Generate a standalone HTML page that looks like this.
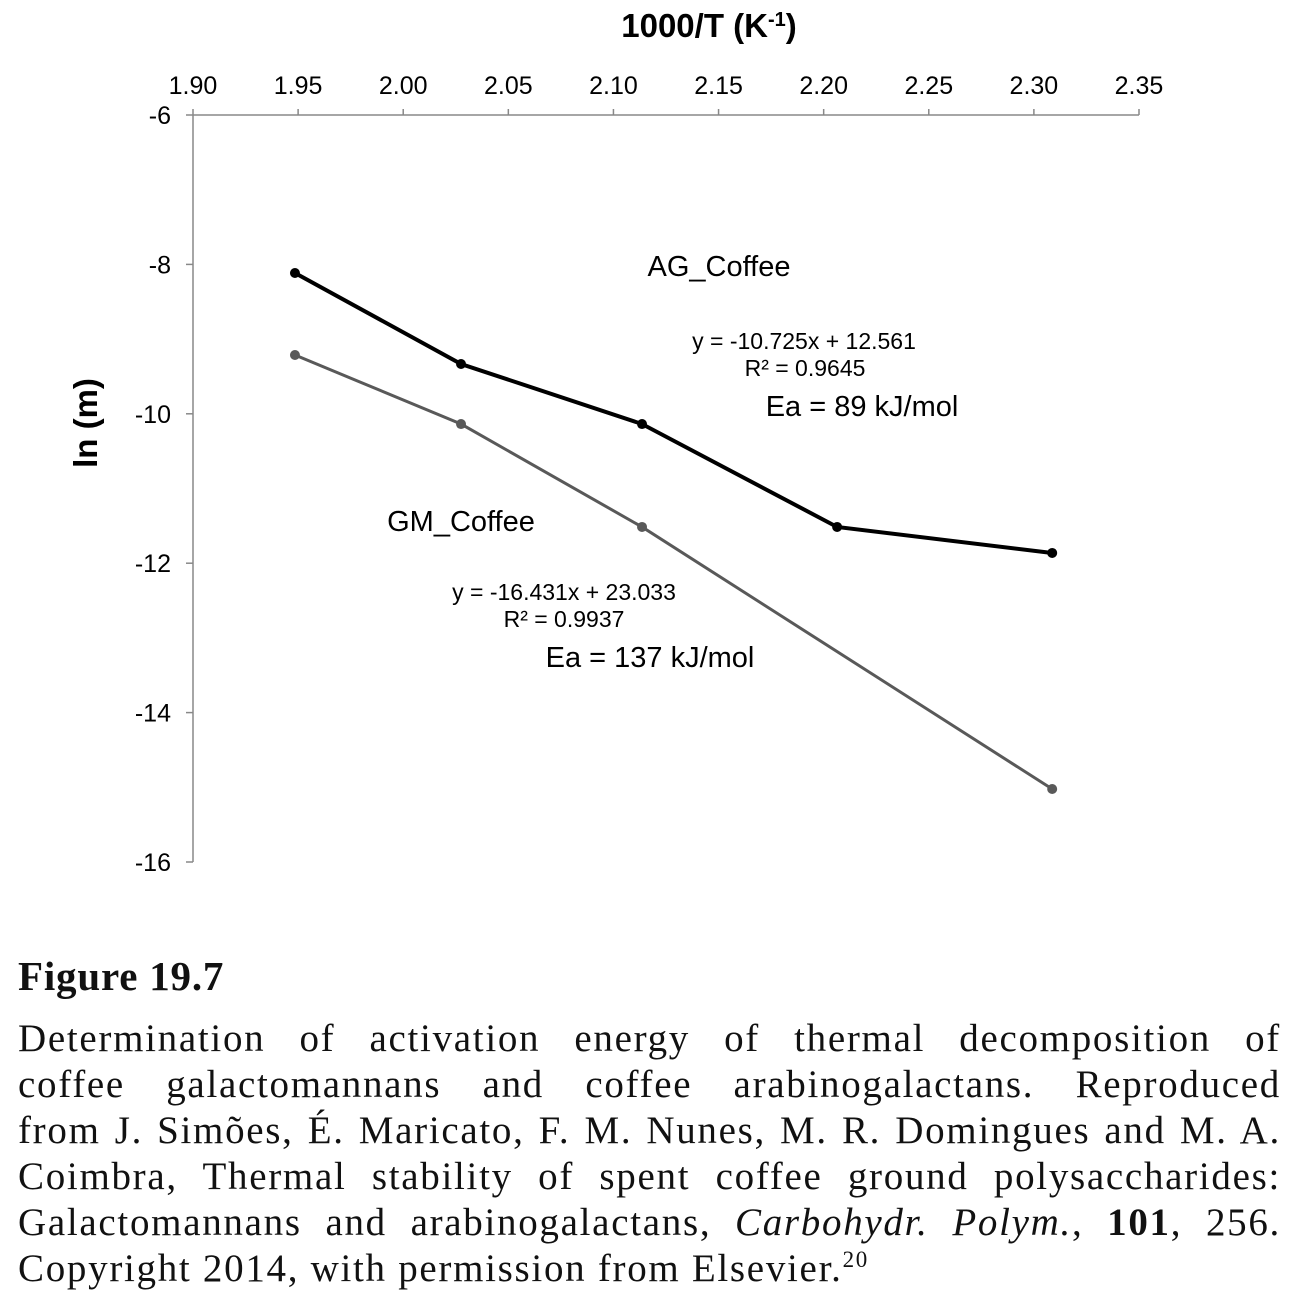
<!DOCTYPE html>
<html><head><meta charset="utf-8"><style>
body{margin:0;background:#fff;width:1298px;height:1303px;overflow:hidden;}
svg{position:absolute;left:0;top:0;}
.cap{position:absolute;left:18px;width:1263px;font-family:"Liberation Serif",serif;font-size:39px;color:#111;}
#title{top:952px;font-weight:bold;font-size:41px;letter-spacing:0.8px;}
#body{top:1016px;line-height:46px;letter-spacing:1.7px;}
#body div{text-align:justify;text-align-last:justify;white-space:nowrap;height:46px;}
#body div.last{text-align-last:left;}
</style></head><body>
<svg width="1298" height="940" font-family="Liberation Sans, sans-serif">
<g id="axes"></g><g id="series"></g>
<text x="709" y="37" text-anchor="middle" font-size="33" font-weight="bold">1000/T (K<tspan dy="-11" font-size="20">-1</tspan><tspan dy="11">)</tspan></text>
<text transform="translate(97,423) rotate(-90)" text-anchor="middle" font-size="33" font-weight="bold">ln (m)</text>
<text x="719" y="276" text-anchor="middle" font-size="29">AG_Coffee</text>
<text x="804" y="349" text-anchor="middle" font-size="23">y = -10.725x + 12.561</text>
<text x="805" y="376" text-anchor="middle" font-size="23">R² = 0.9645</text>
<text x="862" y="416" text-anchor="middle" font-size="29">Ea = 89 kJ/mol</text>
<text x="461" y="531" text-anchor="middle" font-size="29">GM_Coffee</text>
<text x="564" y="600" text-anchor="middle" font-size="23">y = -16.431x + 23.033</text>
<text x="564" y="627" text-anchor="middle" font-size="23">R² = 0.9937</text>
<text x="650" y="667" text-anchor="middle" font-size="29">Ea = 137 kJ/mol</text>
</svg>
<div class="cap" id="title">Figure 19.7</div>
<div class="cap" id="body">
<div>Determination of activation energy of thermal decomposition of</div>
<div>coffee galactomannans and coffee arabinogalactans. Reproduced</div>
<div>from J. Simões, É. Maricato, F. M. Nunes, M. R. Domingues and M. A.</div>
<div>Coimbra, Thermal stability of spent coffee ground polysaccharides:</div>
<div>Galactomannans and arabinogalactans, <i>Carbohydr. Polym.</i>, <b>101</b>, 256.</div>
<div class="last">Copyright 2014, with permission from Elsevier.<sup style="font-size:23px;line-height:0">20</sup></div>
</div>
<script>
const xTicks=["1.90","1.95","2.00","2.05","2.10","2.15","2.20","2.25","2.30","2.35"];
const yTicks=[-6,-8,-10,-12,-14,-16];
const xAG=[1.9485,2.0275,2.1136,2.2064,2.3087];
const yAG=[-8.115,-9.333,-10.137,-11.515,-11.863];
const xGM=[1.9485,2.0275,2.1136,2.3087];
const yGM=[-9.213,-10.137,-11.515,-15.023];
const X=v=>193+(v-1.9)/0.45*946;
const Y=v=>115+(-6-v)/10*747;
const NS="http://www.w3.org/2000/svg";
function mk(p,t,a){const e=document.createElementNS(NS,t);for(const k in a)e.setAttribute(k,a[k]);p.appendChild(e);return e;}
const ax=document.getElementById('axes');
let l=mk(ax,'line',{x1:193,y1:115,x2:1139,y2:115,stroke:'#888','stroke-width':1.5});


l=mk(ax,'line',{x1:193,y1:115,x2:193,y2:862,stroke:'#888','stroke-width':1.5});


xTicks.forEach(t=>{const x=X(+t);
mk(ax,'line',{x1:x,y1:115,x2:x,y2:109,stroke:'#888','stroke-width':1.5});
const e=mk(ax,'text',{x:x,y:94,'text-anchor':'middle','font-size':25});e.textContent=t;

});
yTicks.forEach(t=>{const y=Y(t);
mk(ax,'line',{x1:186,y1:y,x2:193,y2:y,stroke:'#888','stroke-width':1.5});
const e=mk(ax,'text',{x:171,y:y+9,'text-anchor':'end','font-size':25});e.textContent=t;

});
const sg=document.getElementById('series');
function series(xs,ys,c,w,name){
const p=mk(sg,'polyline',{points:xs.map((x,i)=>X(x)+','+Y(ys[i])).join(' '),fill:'none',stroke:c,'stroke-width':w});


xs.forEach((x,i)=>{const d=mk(sg,'circle',{cx:X(x),cy:Y(ys[i]),r:5,fill:c});

});}
series(xGM,yGM,'#595959',3,'gm-coffee');
series(xAG,yAG,'#000',4,'ag-coffee');
</script>
</body></html>
